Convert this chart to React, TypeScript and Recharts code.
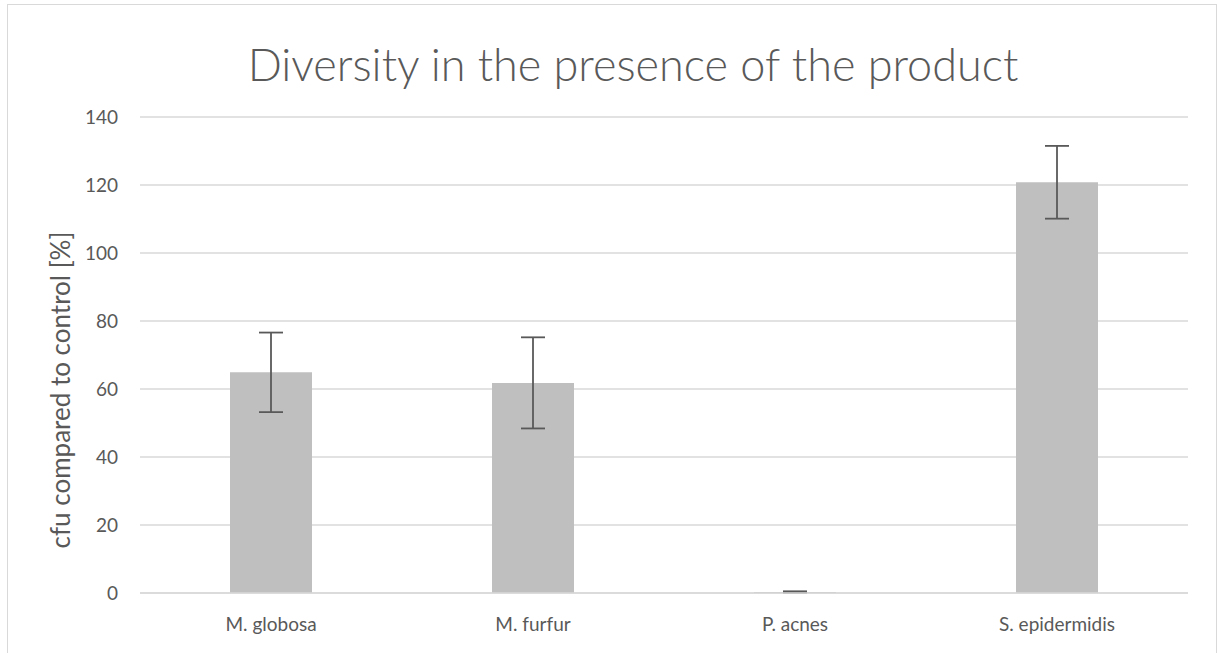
import React from 'react';
import {
  BarChart,
  Bar,
  XAxis,
  YAxis,
  CartesianGrid,
  ErrorBar,
} from 'recharts';

const species = ['M. globosa', 'M. furfur', 'P. acnes', 'S. epidermidis'];
const cfuPercent = [64.9, 61.8, 0.3, 120.8];
const cfuError = [11.7, 13.4, 0.2, 10.7];
const yTicks = [0, 20, 40, 60, 80, 100, 120, 140];

const data = species.map((name, i) => ({
  name,
  value: cfuPercent[i],
  err: cfuError[i],
}));

const FONT = 'Lato, "Open Sans", sans-serif';
const TEXT = '#595959';

export default function App() {
  return (
    <div
      style={{
        position: 'absolute',
        left: 0,
        top: 0,
        width: 1217,
        height: 653,
        overflow: 'hidden',
        background: '#fff',
        fontFamily: FONT,
      }}
    >
      <div
        style={{
          position: 'absolute',
          left: 7,
          top: 4,
          width: 1208,
          height: 700,
          border: '1px solid #d9d9d9',
        }}
      />
      <BarChart
        width={1217}
        height={653}
        data={data}
        margin={{ top: 117, right: 29, left: 80, bottom: 20 }}
        barSize={82}
      >
        <CartesianGrid vertical={false} stroke="#d9d9d9" strokeWidth={1.5} />
        <XAxis
          dataKey="name"
          height={40}
          axisLine={{ stroke: '#d9d9d9', strokeWidth: 1.5 }}
          tickLine={false}
          tickMargin={19}
          tick={{ fontSize: 19, fill: TEXT, fontFamily: FONT }}
        />
        <YAxis
          width={60}
          domain={[0, 140]}
          ticks={yTicks}
          axisLine={false}
          tickLine={false}
          tickMargin={16}
          tick={{ fontSize: 19, fill: TEXT, fontFamily: FONT }}
        />
        <Bar dataKey="value" fill="#bfbfbf" isAnimationActive={false}>
          <ErrorBar
            dataKey="err"
            width={12}
            stroke="#595959"
            strokeWidth={1.8}
          />
        </Bar>
      </BarChart>
      <svg
        width={1217}
        height={653}
        style={{ position: 'absolute', left: 0, top: 0, pointerEvents: 'none' }}
      >
        <text
          x={633}
          y={81}
          textAnchor="middle"
          fontSize={45}
          fontWeight={300}
          fill={TEXT}
          fontFamily={FONT}
        >
          Diversity in the presence of the product
        </text>
        <text
          x={0}
          y={0}
          transform="translate(70, 390) rotate(-90)"
          textAnchor="middle"
          fontSize={26}
          fill={TEXT}
          fontFamily={FONT}
        >
          cfu compared to control [%]
        </text>
      </svg>
    </div>
  );
}
